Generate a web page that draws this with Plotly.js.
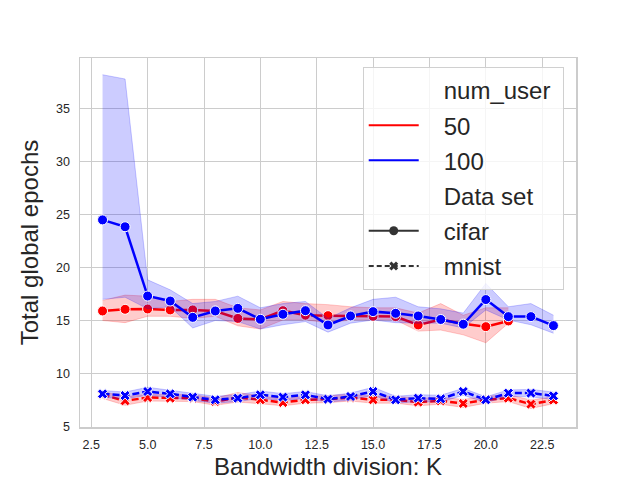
<!DOCTYPE html>
<html>
<head>
<meta charset="utf-8">
<script src="https://cdn.plot.ly/plotly-3.0.1.min.js"></script>
<style>
  body { margin: 0; background: #fff; }
  #chart { width: 640px; height: 480px; }
</style>
</head>
<body>
<div id="chart"></div>
<script>
// bandwidth division K
const kAll = [3, 4, 5, 6, 7, 8, 9, 10, 11, 12, 13, 14, 15, 16, 17, 18, 19, 20, 21, 22, 23];
const kCifar50 = [3, 4, 5, 6, 7, 8, 9, 10, 11, 12, 13, 14, 15, 16, 17, 18, 19, 20, 21];

// cifar, 50 users
const cifar50 = [15.9, 16.06, 16.09, 16.0, 16.0, 15.9, 15.2, 15.1, 15.93, 15.5, 15.46, 15.43, 15.4, 15.37, 14.58, 15.1, 14.7, 14.42, 14.96];
const cifar50Lo = [15.0, 14.8, 15.4, 15.4, 15.2, 15.4, 14.5, 14.2, 15.05, 15.05, 14.8, 15.05, 15.05, 15.05, 14.0, 14.1, 13.65, 12.9, 14.75];
const cifar50Hi = [16.9, 17.4, 17.3, 16.8, 17.0, 17.0, 16.2, 16.0, 16.8, 16.6, 16.5, 16.3, 16.2, 16.2, 15.7, 16.6, 15.5, 16.2, 16.2];

// cifar, 100 users
const cifar100 = [24.5, 23.85, 17.31, 16.84, 15.3, 15.9, 16.15, 15.12, 15.59, 15.93, 14.58, 15.43, 15.84, 15.68, 15.43, 15.1, 14.65, 16.98, 15.37, 15.37, 14.52];
const cifar100Lo = [17.0, 17.2, 16.1, 16.3, 14.3, 15.0, 14.9, 14.2, 14.6, 14.9, 13.9, 14.75, 15.05, 14.8, 14.75, 14.75, 14.3, 16.0, 15.05, 14.6, 13.8];
const cifar100Hi = [38.2, 37.8, 18.84, 17.9, 16.6, 16.8, 17.3, 16.2, 16.6, 16.8, 15.2, 16.2, 17.0, 17.2, 16.3, 16.1, 15.7, 18.5, 16.3, 16.6, 15.5];

// mnist, 50 users
const mnist50 = [7.99, 7.42, 7.73, 7.67, 7.67, 7.36, 7.73, 7.52, 7.26, 7.52, 7.58, 7.73, 7.52, 7.52, 7.3, 7.42, 7.17, 7.52, 7.67, 7.11, 7.49];
const mnist50Lo = [7.65, 7.0, 7.4, 7.35, 7.35, 7.0, 7.3, 7.15, 6.95, 7.2, 7.25, 7.4, 7.2, 7.2, 6.95, 7.1, 6.8, 7.2, 7.35, 6.7, 7.15];
const mnist50Hi = [8.3, 7.8, 8.05, 8.0, 8.0, 7.7, 8.2, 7.9, 7.6, 7.85, 7.9, 8.05, 7.85, 7.85, 7.65, 7.75, 7.55, 7.85, 8.0, 7.5, 7.8];

// mnist, 100 users
const mnist100 = [8.08, 7.92, 8.3, 8.08, 7.77, 7.52, 7.67, 7.99, 7.77, 7.99, 7.58, 7.83, 8.3, 7.52, 7.67, 7.61, 8.3, 7.52, 8.15, 8.15, 7.89];
const mnist100Lo = [7.75, 7.6, 7.95, 7.75, 7.45, 7.2, 7.35, 7.65, 7.45, 7.65, 7.3, 7.5, 7.95, 7.2, 7.35, 7.3, 7.95, 7.25, 7.85, 7.8, 7.55];
const mnist100Hi = [8.4, 8.25, 8.7, 8.4, 8.1, 7.85, 8.0, 8.35, 8.1, 8.3, 7.9, 8.15, 8.7, 7.85, 8.0, 7.95, 8.6, 7.8, 8.45, 8.5, 8.25];

const xTicks = [2.5, 5.0, 7.5, 10.0, 12.5, 15.0, 17.5, 20.0, 22.5];
const yTicks = [5, 10, 15, 20, 25, 30, 35];

const legendRows = ['num_user', '50', '100', 'Data set', 'cifar', 'mnist'];

const RED = 'rgb(255,0,0)';
const BLUE = 'rgb(0,0,255)';
const PAD = '\u00a0\u00a0\u00a0'; // gap between legend symbol and text

function band(x, lo, hi, rgb) {
  const fill = rgb.replace('rgb', 'rgba').replace(')', ',0.2)');
  return [
    { x: x, y: lo, mode: 'lines', line: { width: 1, color: fill }, showlegend: false, hoverinfo: 'skip' },
    { x: x, y: hi, mode: 'lines', line: { width: 1, color: fill }, fill: 'tonexty', fillcolor: fill, showlegend: false, hoverinfo: 'skip' }
  ];
}

function series(x, y, color, isMnist) {
  return {
    x: x, y: y, mode: 'lines+markers', showlegend: false,
    line: { color: color, width: 2.5, dash: isMnist ? '7px,3px' : 'solid' },
    marker: { symbol: isMnist ? 'x' : 'circle', size: isMnist ? 9 : 10, color: color, line: { color: 'white', width: 1 } }
  };
}

const traces = [];
traces.push(...band(kCifar50, cifar50Lo, cifar50Hi, RED));
traces.push(series(kCifar50, cifar50, RED, false));
traces.push(...band(kAll, mnist50Lo, mnist50Hi, RED));
traces.push(series(kAll, mnist50, RED, true));
traces.push(...band(kAll, cifar100Lo, cifar100Hi, BLUE));
traces.push(series(kAll, cifar100, BLUE, false));
traces.push(...band(kAll, mnist100Lo, mnist100Hi, BLUE));
traces.push(series(kAll, mnist100, BLUE, true));

// legend-only entries
const legendStyles = [
  { mode: 'lines', line: { color: 'rgba(0,0,0,0)', width: 2 } },
  { mode: 'lines', line: { color: RED, width: 2 } },
  { mode: 'lines', line: { color: BLUE, width: 2 } },
  { mode: 'lines', line: { color: 'rgba(0,0,0,0)', width: 2 } },
  { mode: 'lines+markers', line: { color: '#333', width: 2 }, marker: { symbol: 'circle', size: 9, color: '#333' } },
  { mode: 'lines+markers', line: { color: '#333', width: 2, dash: '5px,3px' }, marker: { symbol: 'x', size: 8, color: '#333' } }
];
legendRows.forEach((name, i) => {
  const label = PAD + name + (i === 0 ? '\u00a0' : '');
  traces.push(Object.assign({ x: [null], y: [null], name: label, legendgroup: 'g' + i, showlegend: true }, legendStyles[i]));
});

const layout = {
  width: 640,
  height: 480,
  margin: { l: 80, r: 64, t: 58, b: 53 },
  paper_bgcolor: 'white',
  plot_bgcolor: 'white',
  font: { family: 'Liberation Sans, Arial, sans-serif', color: '#262626' },
  xaxis: {
    range: [2, 24],
    tickvals: xTicks,
    ticktext: xTicks.map(v => v.toFixed(1)),
    tickfont: { size: 12.5, color: '#262626' },
    gridcolor: '#cccccc',
    gridwidth: 1,
    showline: true, mirror: true, linecolor: '#cccccc', linewidth: 1.5,
    zeroline: false,
    ticks: '',
    ticklabelstandoff: 5,
    title: { text: 'Bandwidth division: K', font: { size: 24, color: '#262626' }, standoff: 9 }
  },
  yaxis: {
    range: [4.95, 39.78],
    tickvals: yTicks,
    tickfont: { size: 12.5, color: '#262626' },
    gridcolor: '#cccccc',
    gridwidth: 1,
    showline: true, mirror: true, linecolor: '#cccccc', linewidth: 1.5,
    zeroline: false,
    ticks: '',
    ticklabelstandoff: 6,
    title: { text: 'Total global epochs', font: { size: 24, color: '#262626' }, standoff: 10 }
  },
  legend: {
    x: 0.57, y: 0.976, xanchor: 'left', yanchor: 'top',
    bgcolor: 'rgba(255,255,255,0.8)',
    bordercolor: '#d0d0d0', borderwidth: 1,
    font: { size: 24, color: '#262626' },
    tracegroupgap: 1,
    itemwidth: 50
  },
  showlegend: true
};

Plotly.newPlot('chart', traces, layout, { displayModeBar: false, staticPlot: true });
</script>
</body>
</html>
